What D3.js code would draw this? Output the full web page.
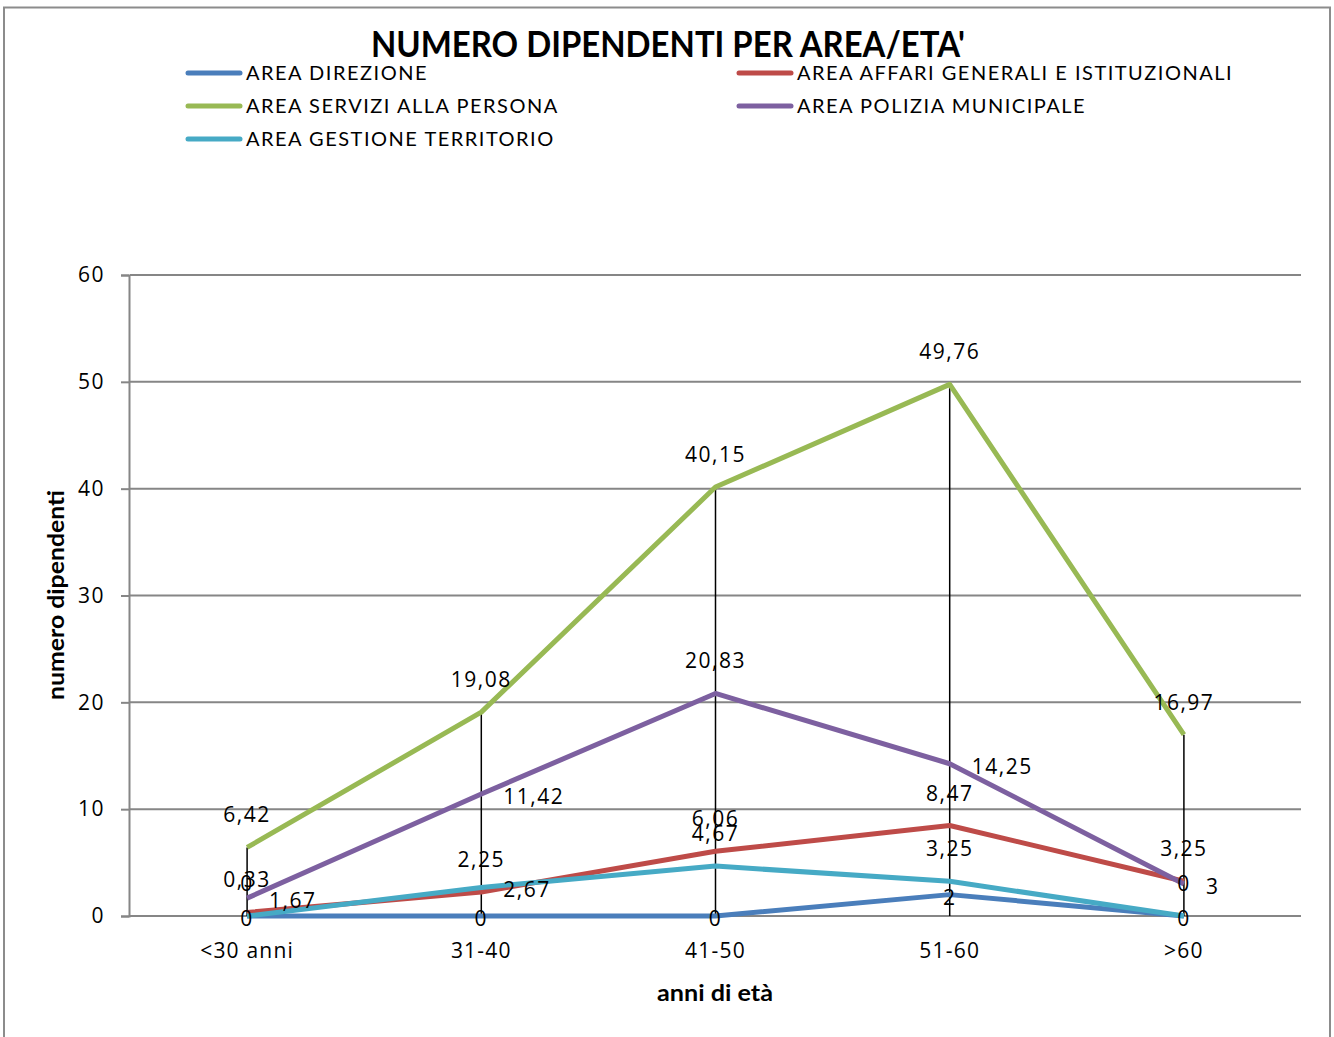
<!DOCTYPE html>
<html>
<head>
<meta charset="utf-8">
<script src="https://cdn.jsdelivr.net/npm/d3@7"></script>
<style>
  body { margin: 0; background: #fff; }
  svg { display: block; font-family: Lato, "Open Sans", sans-serif; }
</style>
</head>
<body>
<svg id="chart" width="1334" height="1037"></svg>
<script>
/* Data */

const categories = ['<30 anni', '31-40', '41-50', '51-60', '>60'];
const seriesNames = [
    'AREA DIREZIONE',
    'AREA AFFARI GENERALI E ISTITUZIONALI',
    'AREA SERVIZI ALLA PERSONA',
    'AREA POLIZIA MUNICIPALE',
    'AREA GESTIONE TERRITORIO'
];
const direzione = [0, 0, 0, 2, 0];
const affariGenerali = [0.33, 2.25, 6.06, 8.47, 3.25];
const serviziPersona = [6.42, 19.08, 40.15, 49.76, 16.97];
const poliziaMunicipale = [1.67, 11.42, 20.83, 14.25, 3];
const gestioneTerritorio = [0, 2.67, 4.67, 3.25, 0];
const yTicks = [0, 10, 20, 30, 40, 50, 60];

// where each data label sits: c = centre, t = above, r = right
const labelPos = [
    ['c', 'c', 'c', 'c', 'c'],
    ['t', 't', 't', 't', 't'],
    ['t', 't', 't', 't', 't'],
    ['r', 'r', 't', 'r', 'r'],
    ['t', 'r', 't', 't', 't']
];

const colors = ['#4a7ebb', '#be4b48', '#98b954', '#7d60a0', '#46aac5'];
const allSeries = [direzione, affariGenerali, serviziPersona, poliziaMunicipale, gestioneTerritorio];

/* Setup */

const svg = d3.select('#chart');
const margin = { left: 130, right: 1301, top: 275, bottom: 916 };

const x = d3.scaleBand()
    .domain(categories)
    .range([margin.left, margin.right]);
const xc = c => x(c) + x.bandwidth() / 2;

const y = d3.scaleLinear()
    .domain([0, 60])
    .range([margin.bottom, margin.top]);

// outer frame
svg.append('rect')
    .attr('x', 4).attr('y', 7.5)
    .attr('width', 1326).attr('height', 1060)
    .attr('fill', 'none')
    .attr('stroke', '#8c8c8c')
    .attr('stroke-width', 2);

/* Title */

svg.append('text')
    .attr('x', 668).attr('y', 57)
    .attr('text-anchor', 'middle')
    .attr('font-size', 36)
    .attr('font-weight', 'bold')
    .attr('textLength', 594)
    .attr('lengthAdjust', 'spacingAndGlyphs')
    .text("NUMERO DIPENDENTI PER AREA/ETA'");

/* Legend */

const legend = svg.append('g');
seriesNames.forEach((name, i) => {
    const col = i % 2, row = Math.floor(i / 2);
    const lx = col === 0 ? 188 : 739;
    const ly = 73 + row * 33;
    legend.append('line')
        .attr('x1', lx).attr('x2', lx + 52)
        .attr('y1', ly).attr('y2', ly)
        .attr('stroke', colors[i])
        .attr('stroke-width', 5)
        .attr('stroke-linecap', 'round');
    legend.append('text')
        .attr('x', lx + 58).attr('y', ly + 7)
        .attr('font-size', 20)
        .attr('letter-spacing', 1.5)
        .text(name);
});

/* Axes */

const yAxis = svg.append('g')
    .attr('transform', `translate(${margin.left - 1},0)`)
    .call(d3.axisLeft(y).tickValues(yTicks).tickSize(8).tickPadding(16));
yAxis.select('.domain').attr('stroke', '#868686').attr('stroke-width', 2);
yAxis.selectAll('.tick line').attr('stroke', '#868686').attr('stroke-width', 2);
yAxis.selectAll('.tick text')
    .attr('font-size', 21)
    .attr('letter-spacing', 1.5)
    .attr('font-family', '"Open Sans", sans-serif')
    .attr('fill', '#000');

// gridlines
svg.append('g')
    .selectAll('line')
    .data(yTicks)
    .join('line')
    .attr('x1', margin.left).attr('x2', margin.right)
    .attr('y1', d => y(d)).attr('y2', d => y(d))
    .attr('stroke', '#868686')
    .attr('stroke-width', 2);

const xAxis = svg.append('g')
    .attr('transform', `translate(0,${margin.bottom})`)
    .call(d3.axisBottom(x).tickSize(0).tickPadding(27));
xAxis.select('.domain').remove();
xAxis.selectAll('.tick text')
    .attr('font-size', 21)
    .attr('letter-spacing', 1.2)
    .attr('font-family', '"Open Sans", sans-serif')
    .attr('fill', '#000');

svg.append('text')
    .attr('x', 715).attr('y', 1001)
    .attr('text-anchor', 'middle')
    .attr('font-size', 22)
    .attr('font-weight', 'bold')
    .attr('textLength', 116)
    .attr('lengthAdjust', 'spacingAndGlyphs')
    .text('anni di età');

svg.append('text')
    .attr('transform', 'translate(64,595) rotate(-90)')
    .attr('text-anchor', 'middle')
    .attr('font-size', 22)
    .attr('font-weight', 'bold')
    .attr('textLength', 210)
    .attr('lengthAdjust', 'spacingAndGlyphs')
    .text('numero dipendenti');

/* Drop lines */

svg.append('g')
    .selectAll('line')
    .data(categories)
    .join('line')
    .attr('x1', d => xc(d)).attr('x2', d => xc(d))
    .attr('y1', (d, i) => y(d3.max(allSeries, s => s[i])))
    .attr('y2', y(0))
    .attr('stroke', '#000')
    .attr('stroke-width', 1.5);

/* Lines */

const line = d3.line()
    .x((d, i) => xc(categories[i]))
    .y(d => y(d));

svg.append('g')
    .selectAll('path')
    .data(allSeries)
    .join('path')
    .attr('d', line)
    .attr('fill', 'none')
    .attr('stroke', (d, i) => colors[i])
    .attr('stroke-width', 5)
    .attr('stroke-linejoin', 'round');

/* Data labels */

const fmt = v => String(v).replace('.', ',');
const labels = svg.append('g')
    .attr('font-size', 21)
    .attr('letter-spacing', 1.5)
    .attr('font-family', '"Open Sans", sans-serif');

allSeries.forEach((s, si) => {
    s.forEach((v, i) => {
        const pos = labelPos[si][i];
        const px = xc(categories[i]), py = y(v);
        labels.append('text')
            .attr('x', pos === 'r' ? px + 22 : px)
            .attr('y', pos === 't' ? py - 25 : py + 10)
            .attr('text-anchor', pos === 'r' ? 'start' : 'middle')
            .text(fmt(v));
    });
});
</script>
</body>
</html>
